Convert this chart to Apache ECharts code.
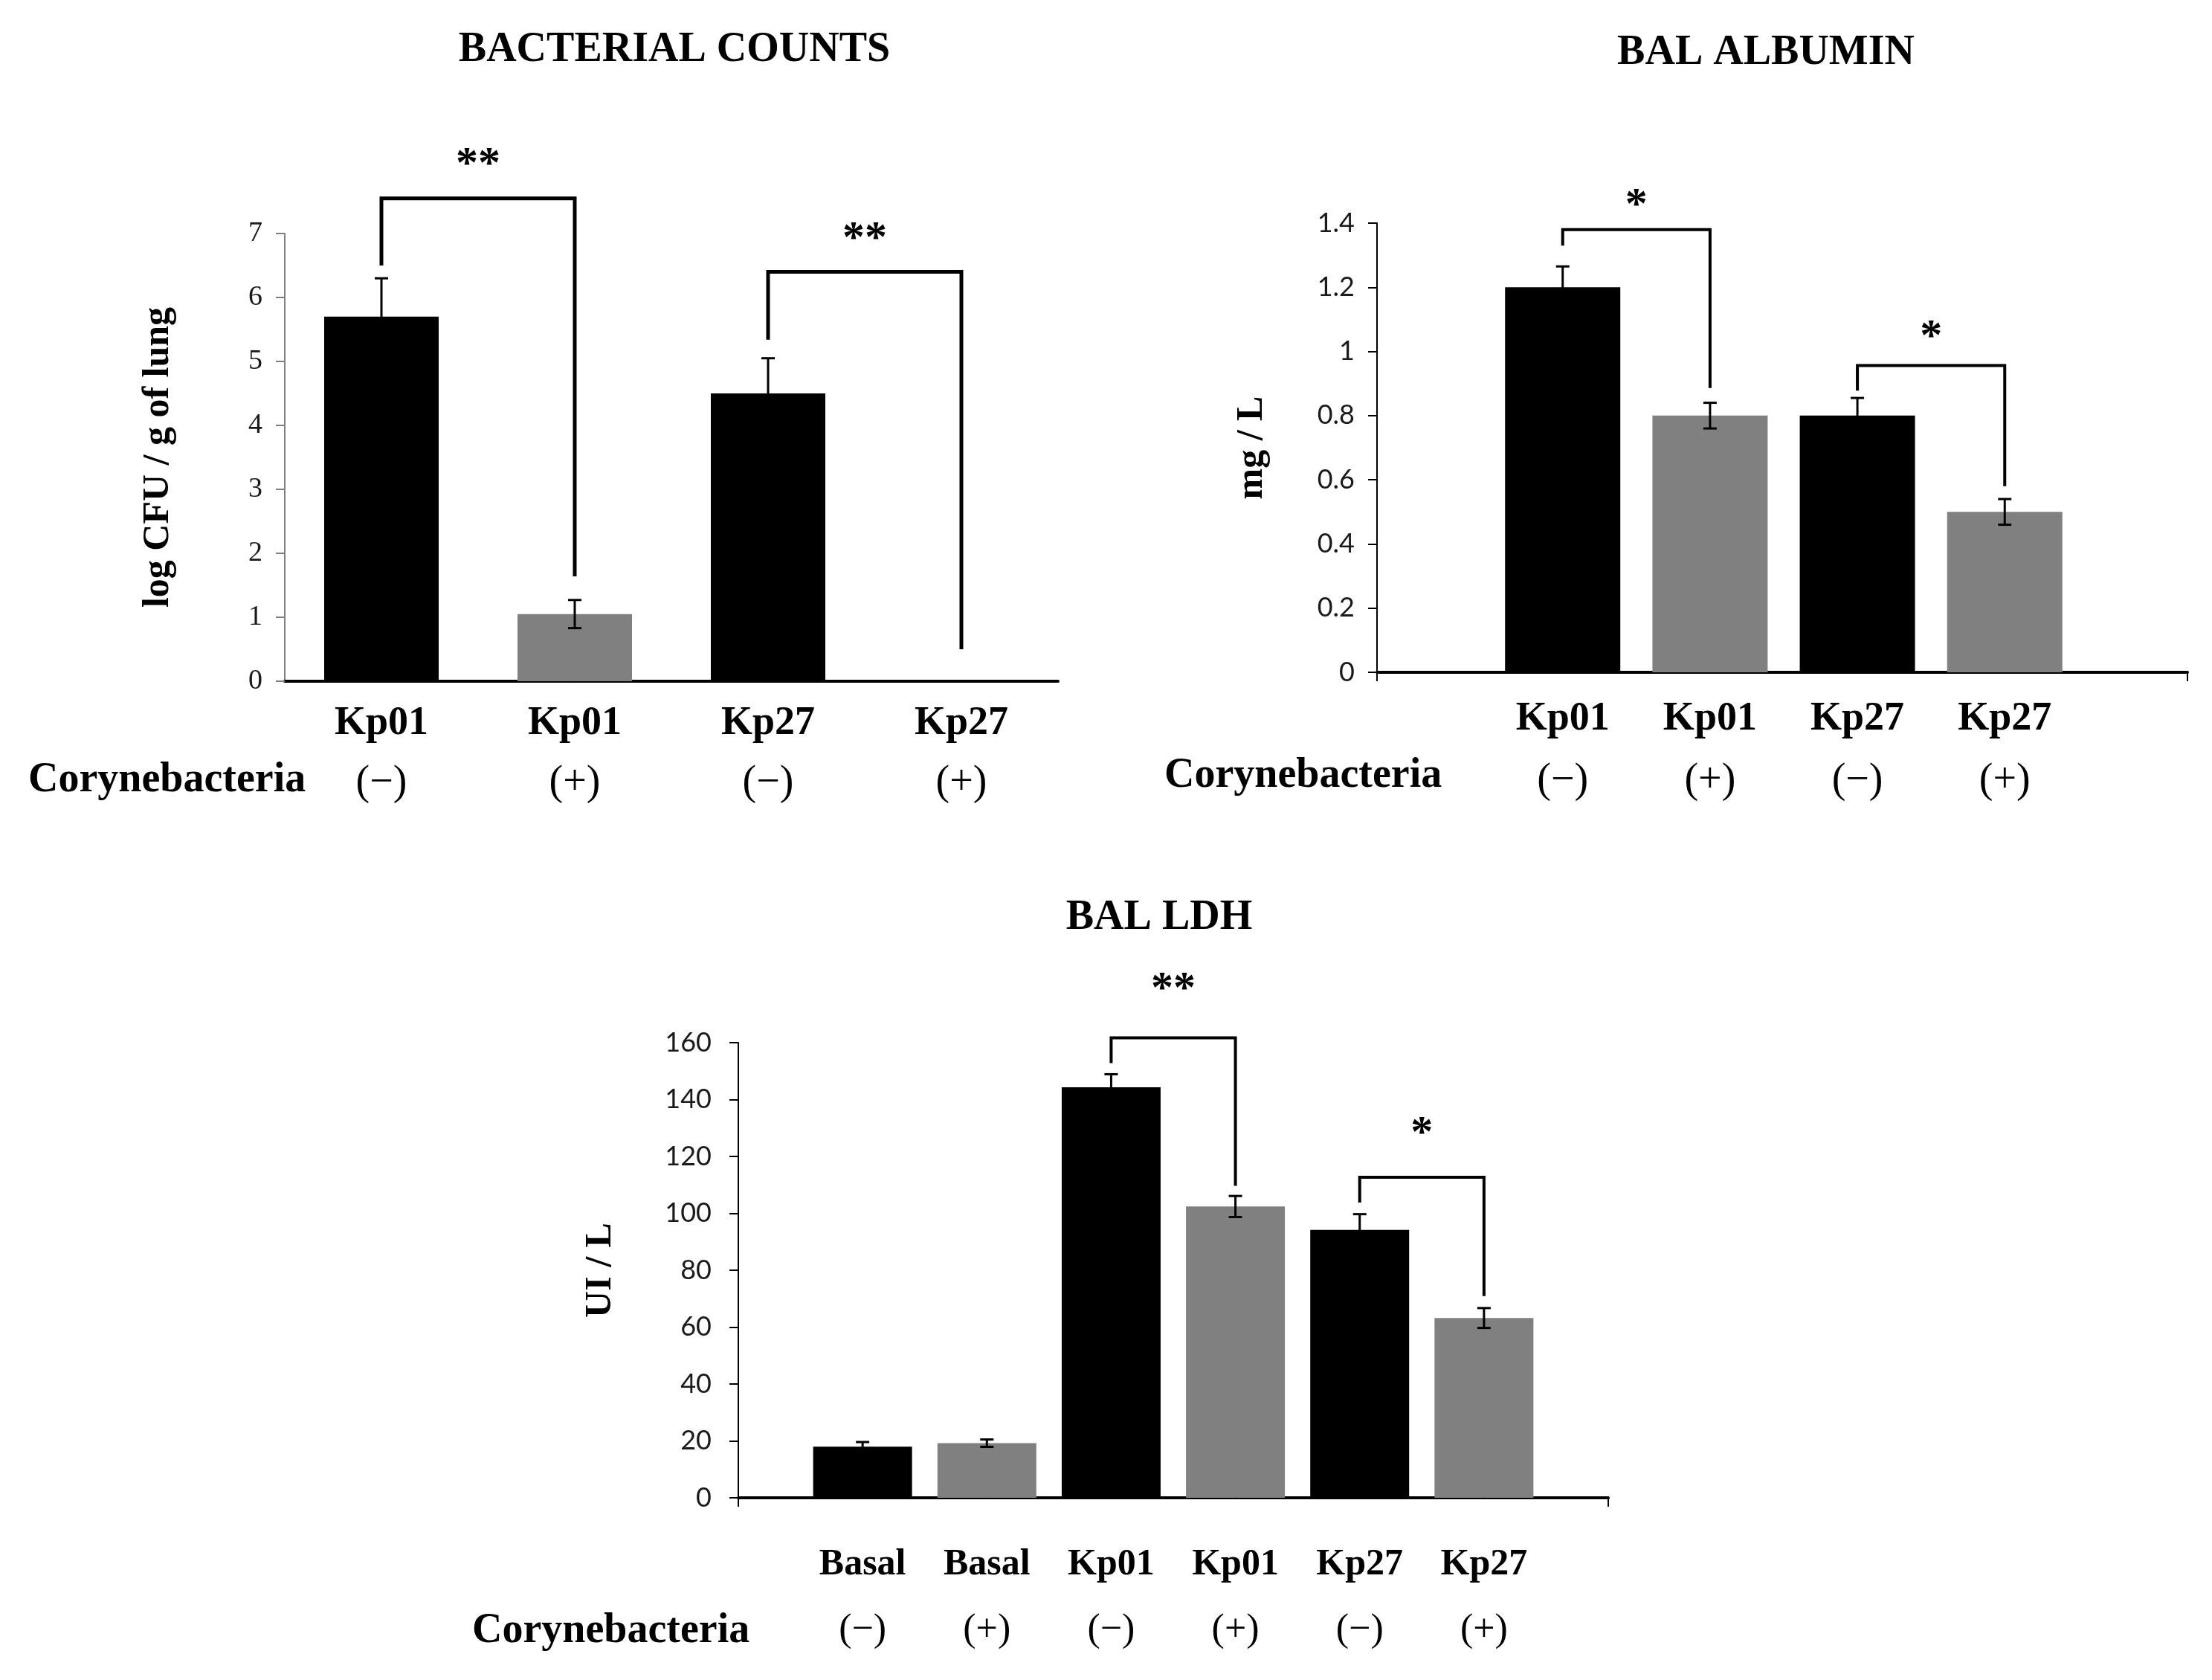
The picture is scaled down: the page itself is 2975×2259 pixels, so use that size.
<!DOCTYPE html>
<html>
<head>
<meta charset="utf-8">
<script src="https://cdn.jsdelivr.net/npm/echarts@6/dist/echarts.min.js"></script>
<style>
  html, body { margin: 0; background: #fff; }
  #main { width: 2975px; height: 2259px; }
</style>
</head>
<body>
<div id="main"></div>
<script>
const dom = document.getElementById('main');

const SERIF = '"Liberation Serif", "Times New Roman", serif';
const SANS = 'Lato, "Noto Sans", sans-serif';

// --- BACTERIAL COUNTS ---
const cfuStrain = ['Kp01', 'Kp01', 'Kp27', 'Kp27'];
const cfuCoryne = ['(−)', '(+)', '(−)', '(+)'];
const cfuMean = [5.7, 1.05, 4.5, 0];
const cfuErr = [0.6, 0.22, 0.55, 0];
const cfuYTicks = [0, 1, 2, 3, 4, 5, 6, 7];
// bracket: [left bar, right bar, left leg y, top y, right leg y, star y]
const cfuSig = [[0, 1, 6.5, 7.55, 1.64, 8.16], [2, 3, 5.34, 6.4, 0.5, 6.99]];
const cfuSigText = ['**', '**'];

// --- BAL ALBUMIN ---
const albStrain = ['Kp01', 'Kp01', 'Kp27', 'Kp27'];
const albCoryne = ['(−)', '(+)', '(−)', '(+)'];
const albMean = [1.2, 0.8, 0.8, 0.5];
const albErr = [0.065, 0.04, 0.055, 0.04];
const albYTicks = [0, 0.2, 0.4, 0.6, 0.8, 1, 1.2, 1.4];
const albSig = [[0, 1, 1.33, 1.38, 0.886, 1.47], [2, 3, 0.878, 0.956, 0.58, 1.06]];
const albSigText = ['*', '*'];

// --- BAL LDH ---
const ldhStrain = ['Basal', 'Basal', 'Kp01', 'Kp01', 'Kp27', 'Kp27'];
const ldhCoryne = ['(−)', '(+)', '(−)', '(+)', '(−)', '(+)'];
const ldhMean = [18, 19.2, 144.3, 102.4, 94.2, 63.2];
const ldhErr = [1.6, 1.3, 4.6, 3.7, 5.5, 3.5];
const ldhYTicks = [0, 20, 40, 60, 80, 100, 120, 140, 160];
const ldhSig = [[2, 3, 152.8, 161.7, 109.7, 180.5], [4, 5, 103.8, 112.7, 70.9, 129.7]];
const ldhSigText = ['**', '*'];

const panels = [
  {
    strain: cfuStrain, coryne: cfuCoryne, mean: cfuMean, err: cfuErr,
    yTicks: cfuYTicks, sig: cfuSig, sigText: cfuSigText,
    yName: 'log CFU / g of lung',
    grid: { left: 383, top: 314, width: 1040, height: 602 },
    xMin: -0.5, xMax: 3.5, xTicks: false, barWidth: 154,
    yAxisColor: '#7f7f7f', yLabelFont: SERIF, yLabelSize: 38, yLabelMargin: 30,
    yNameGap: 145, labelDist: 17, labelLine: 80, labelSize: 54, lineW: 5
  },
  {
    strain: albStrain, coryne: albCoryne, mean: albMean, err: albErr,
    yTicks: albYTicks, sig: albSig, sigText: albSigText,
    yName: 'mg / L',
    grid: { left: 1852, top: 300, width: 1090, height: 604 },
    xMin: -1.26, xMax: 4.24, xTicks: true, barWidth: 155,
    yAxisColor: '#000', yLabelFont: SANS, yLabelSize: 36, yLabelMargin: 30,
    yNameGap: 143, labelDist: 21, labelLine: 83, labelSize: 54, lineW: 4
  },
  {
    strain: ldhStrain, coryne: ldhCoryne, mean: ldhMean, err: ldhErr,
    yTicks: ldhYTicks, sig: ldhSig, sigText: ldhSigText,
    yName: 'UI / L',
    grid: { left: 993, top: 1402, width: 1170, height: 612 },
    xMin: -1, xMax: 6, xTicks: true, barWidth: 133,
    yAxisColor: '#000', yLabelFont: SANS, yLabelSize: 36, yLabelMargin: 36,
    yNameGap: 160, labelDist: 46, labelLine: 88, labelSize: 50, lineW: 4
  }
];

function barColor(c) {
  return c === '(+)' ? '#808080' : '#000000';
}

function errorBarItem(params, api) {
  const x = api.value(0), y = api.value(1), e = api.value(2);
  if (!e) return null;
  const top = api.coord([x, y + e]);
  const bot = api.coord([x, y - e]);
  const cap = 9;
  const style = { stroke: '#000', lineWidth: 3 };
  return {
    type: 'group',
    children: [
      { type: 'line', shape: { x1: top[0], y1: top[1], x2: bot[0], y2: bot[1] }, style },
      { type: 'line', shape: { x1: top[0] - cap, y1: top[1], x2: top[0] + cap, y2: top[1] }, style },
      { type: 'line', shape: { x1: bot[0] - cap, y1: bot[1], x2: bot[0] + cap, y2: bot[1] }, style }
    ]
  };
}

function bracketRenderer(texts, lineW) {
  return function (params, api) {
    const x1 = api.value(0), x2 = api.value(1);
    const a = api.coord([x1, api.value(2)]);
    const b = api.coord([x1, api.value(3)]);
    const c = api.coord([x2, api.value(3)]);
    const d = api.coord([x2, api.value(4)]);
    const s = api.coord([(x1 + x2) / 2, api.value(5)]);
    return {
      type: 'group',
      children: [
        {
          type: 'polyline',
          shape: { points: [a, b, c, d] },
          style: { stroke: '#000', lineWidth: lineW, fill: null }
        },
        {
          type: 'text',
          style: {
            text: texts[params.dataIndex],
            x: s[0], y: s[1] + 8,
            align: 'center', verticalAlign: 'middle',
            textAlign: 'center', textVerticalAlign: 'middle',
            font: 'bold 60px ' + SERIF,
            fill: '#000'
          }
        }
      ]
    };
  };
}

function buildOption() {
  const grid = [], xAxis = [], yAxis = [], series = [];
  panels.forEach((p, i) => {
    grid.push(Object.assign({ containLabel: false }, p.grid));
    xAxis.push({
      type: 'value', gridIndex: i, min: p.xMin, max: p.xMax,
      axisLine: { show: true, onZero: true, lineStyle: { color: '#000', width: 4 } },
      axisTick: p.xTicks
        ? { show: true, length: 12, lineStyle: { color: '#000', width: 2 }, customValues: [p.xMin, p.xMax] }
        : { show: false },
      axisLabel: { show: false },
      splitLine: { show: false }
    });
    const yt = p.yTicks;
    yAxis.push({
      type: 'value', gridIndex: i,
      min: yt[0], max: yt[yt.length - 1], interval: yt[1] - yt[0],
      name: p.yName, nameLocation: 'middle', nameGap: p.yNameGap, nameRotate: 90,
      nameTextStyle: { fontFamily: SERIF, fontWeight: 'bold', fontSize: 50, color: '#000' },
      axisLine: { show: true, onZero: false, lineStyle: { color: p.yAxisColor, width: 2 } },
      axisTick: { show: true, length: 12, lineStyle: { color: p.yAxisColor, width: 2 } },
      axisLabel: {
        fontFamily: p.yLabelFont, fontSize: p.yLabelSize, color: '#1a1a1a', margin: p.yLabelMargin
      },
      splitLine: { show: false }
    });

    series.push({
      type: 'bar', xAxisIndex: i, yAxisIndex: i,
      barWidth: p.barWidth,
      data: p.mean.map((v, k) => ({ value: [k, v], itemStyle: { color: barColor(p.coryne[k]) } }))
    });
    series.push({
      type: 'custom', xAxisIndex: i, yAxisIndex: i,
      renderItem: errorBarItem,
      data: p.mean.map((v, k) => [k, v, p.err[k]]),
      z: 3
    });
    series.push({
      type: 'custom', xAxisIndex: i, yAxisIndex: i,
      renderItem: bracketRenderer(p.sigText, p.lineW),
      data: p.sig,
      clip: false,
      z: 4
    });
    // category labels under the axis (the tiny black anchor dot sits on the axis line)
    series.push({
      type: 'scatter', xAxisIndex: i, yAxisIndex: i,
      symbolSize: 1, itemStyle: { color: '#000', opacity: 1 },
      clip: false, silent: true,
      data: p.strain.map((s, k) => [k, 0]),
      label: {
        show: true, position: 'bottom', distance: p.labelDist, color: '#000', opacity: 1,
        formatter: (prm) => `{a|${p.strain[prm.dataIndex]}}\n{b|${p.coryne[prm.dataIndex]}}`,
        rich: {
          a: { fontFamily: SERIF, fontWeight: 'bold', fontSize: p.labelSize, lineHeight: p.labelLine, color: '#000', align: 'center' },
          b: { fontFamily: SERIF, fontSize: p.labelSize + 2, lineHeight: p.labelLine, color: '#000', align: 'center' }
        }
      }
    });
  });

  const titleStyle = { fontFamily: SERIF, fontWeight: 'bold', fontSize: 56, color: '#000' };
  const corynStyle = { text: 'Corynebacteria', font: 'bold 56px ' + SERIF, fill: '#000' };

  return {
    backgroundColor: '#fff',
    animation: false,
    title: [
      { text: 'BACTERIAL COUNTS', left: 902, top: 35, textAlign: 'center', textStyle: titleStyle },
      { text: 'BAL ALBUMIN', left: 2370, top: 39, textAlign: 'center', textStyle: titleStyle },
      { text: 'BAL LDH', left: 1554, top: 1202, textAlign: 'center', textStyle: titleStyle }
    ],
    graphic: [
      { type: 'text', left: 38, top: 1022, style: corynStyle },
      { type: 'text', left: 1566, top: 1016, style: corynStyle },
      { type: 'text', left: 635, top: 2166, style: corynStyle }
    ],
    grid, xAxis, yAxis, series
  };
}

const myChart = echarts.init(dom, null, { renderer: 'canvas' });
myChart.setOption(buildOption());
</script>
</body>
</html>
